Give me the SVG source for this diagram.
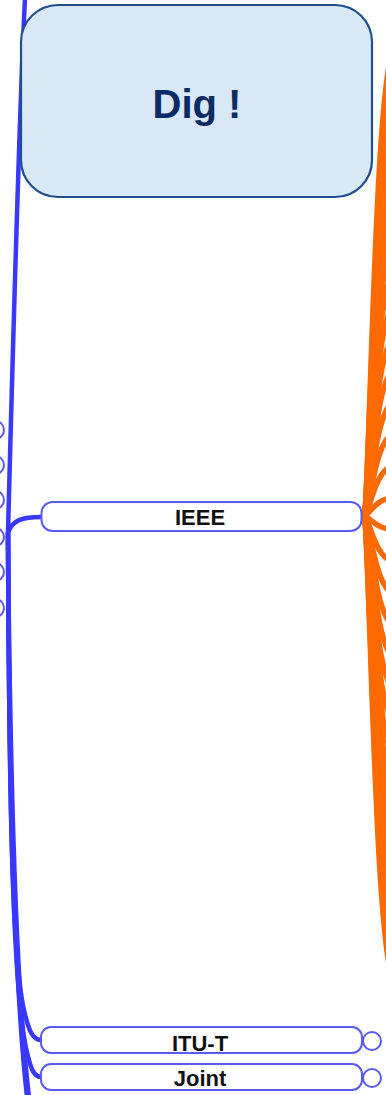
<svg xmlns="http://www.w3.org/2000/svg" width="386" height="1095" viewBox="0 0 386 1095">
<style>
.blue{fill:none;stroke:#3838ff;stroke-width:4.5;stroke-linecap:round}
.org{fill:none;stroke:#ff6a00;stroke-width:5.5}
.node{fill:#fff;stroke:#5a5af0;stroke-width:2}
.lbl{font-family:"Liberation Sans",Arial,sans-serif;font-weight:bold;font-size:22px;fill:#111;text-anchor:middle}
.knob{fill:#fff;stroke:#5a5af0;stroke-width:2}
</style>
<rect width="386" height="1095" fill="#fff"/>
<g id="connectors">
<path class="blue" d="M25,-2 C19,120 12,380 8,532"/>
<path class="blue" d="M8,533 C12,520 22,517 42,517"/>
<path class="blue" d="M8,533 C9,780 12,960 24,1010 C28,1028 32,1040 41,1040"/>
<path class="blue" d="M8,533 C9,780 12,980 26,1048 C30,1066 33,1077 41,1077"/>
<path class="blue" d="M8,533 C9,780 14,980 27,1097"/>
<path class="blue" d="M8,533 C10,780 16,990 29,1097"/>
<g class="org">
<path d="M362,516 C372,516 372,35 400,35"/>
<path d="M362,516 C372,516 372,68 400,68"/>
<path d="M362,516 C372,516 372,101 400,101"/>
<path d="M362,516 C372,516 372,134 400,134"/>
<path d="M362,516 C372,516 372,167 400,167"/>
<path d="M362,516 C372,516 372,200 400,200"/>
<path d="M362,516 C372,516 372,233 400,233"/>
<path d="M362,516 C372,516 372,266 400,266"/>
<path d="M362,516 C372,516 372,299 400,299"/>
<path d="M362,516 C372,516 372,332 400,332"/>
<path d="M362,516 C372,516 372,365 400,365"/>
<path d="M362,516 C372,516 372,398 400,398"/>
<path d="M362,516 C372,516 372,431 400,431"/>
<path d="M362,516 C372,516 372,464 400,464"/>
<path d="M362,516 C372,516 372,497 400,497"/>
<path d="M362,516 C372,516 372,530 400,530"/>
<path d="M362,516 C372,516 372,563 400,563"/>
<path d="M362,516 C372,516 372,596 400,596"/>
<path d="M362,516 C372,516 372,629 400,629"/>
<path d="M362,516 C372,516 372,662 400,662"/>
<path d="M362,516 C372,516 372,695 400,695"/>
<path d="M362,516 C372,516 372,728 400,728"/>
<path d="M362,516 C372,516 372,761 400,761"/>
<path d="M362,516 C372,516 372,794 400,794"/>
<path d="M362,516 C372,516 372,827 400,827"/>
<path d="M362,516 C372,516 372,860 400,860"/>
<path d="M362,516 C372,516 372,893 400,893"/>
<path d="M362,516 C372,516 372,926 400,926"/>
<path d="M362,516 C372,516 372,959 400,959"/>
<path d="M362,516 C372,516 372,995 400,995"/>
</g>
</g>
<g id="left-knobs">
<circle class="knob" cx="-5" cy="430" r="9"/>
<circle class="knob" cx="-5" cy="465" r="9"/>
<circle class="knob" cx="-5" cy="500" r="9"/>
<circle class="knob" cx="-5" cy="537" r="9"/>
<circle class="knob" cx="-5" cy="572" r="9"/>
<circle class="knob" cx="-5" cy="608" r="9"/>
</g>
<g id="dig">
<rect x="21" y="5" width="351" height="192" rx="37" ry="37" fill="#d9e8f6" stroke="#1f4e8c" stroke-width="2.2"/>
<text x="197" y="118" font-family="'Liberation Sans',Arial,sans-serif" font-weight="bold" font-size="40" fill="#0b2b64" text-anchor="middle">Dig !</text>
</g>
<g id="ieee">
<rect class="node" x="41.5" y="502" width="320" height="29" rx="11"/>
<text class="lbl" x="200" y="524.5">IEEE</text>
</g>
<g id="itu-t">
<rect class="node" x="41" y="1027" width="321" height="26" rx="10"/>
<circle class="knob" cx="372" cy="1041" r="9"/>
<text class="lbl" x="200" y="1051">ITU-T</text>
</g>
<g id="joint">
<rect class="node" x="41" y="1064" width="321" height="26" rx="10"/>
<circle class="knob" cx="372" cy="1078" r="9"/>
<text class="lbl" x="200" y="1086">Joint</text>
</g>
</svg>
